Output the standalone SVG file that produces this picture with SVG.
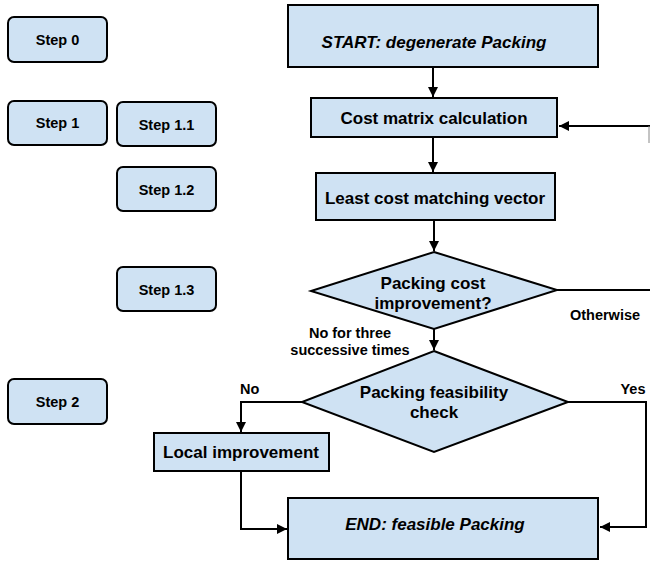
<svg xmlns="http://www.w3.org/2000/svg" width="650" height="563" viewBox="0 0 650 563">
<defs>
<marker id="ah" viewBox="0 0 10 10" refX="10" refY="5" markerWidth="5" markerHeight="5" orient="auto" markerUnits="strokeWidth">
<path d="M0,0 L10,5 L0,10 z" fill="#000"/>
</marker>
<style>
.box{fill:#cfe2f3;stroke:#000;stroke-width:2}
.step{fill:#cfe2f3;stroke:#000;stroke-width:2}
.t{font-family:"Liberation Sans",Arial,sans-serif;font-weight:bold;font-size:17px;fill:#000;text-anchor:middle}
.ti{font-style:italic}
.st{font-family:"Liberation Sans",Arial,sans-serif;font-weight:bold;font-size:14.5px;fill:#000;text-anchor:middle}
.lb{font-family:"Liberation Sans",Arial,sans-serif;font-weight:bold;font-size:14.5px;fill:#000}
.c{fill:none;stroke:#000;stroke-width:2}
</style>
</defs>
<rect width="650" height="563" fill="#fff"/>
<g id="connectors">
<path class="c" d="M433,67 V97" marker-end="url(#ah)"/>
<path class="c" d="M433,137 V172" marker-end="url(#ah)"/>
<path class="c" d="M434,220 V251" marker-end="url(#ah)"/>
<path class="c" d="M434,329 V350" marker-end="url(#ah)"/>
<path class="c" d="M557,290 H650"/>
<path class="c" d="M650,126 H559" marker-end="url(#ah)"/>
<path d="M649,126 V143" fill="none" stroke="#888" stroke-width="1"/>
<path class="c" d="M302,402 H241 V432" marker-end="url(#ah)"/>
<path class="c" d="M568,402 H646 V527 H600" marker-end="url(#ah)"/>
<path class="c" d="M241,471 V529 H287" marker-end="url(#ah)"/>
</g>
<g id="step0"><rect class="step" x="8" y="17" width="99" height="45" rx="6"/><text class="st" x="57.5" y="45">Step 0</text></g>
<g id="step1"><rect class="step" x="8" y="101" width="99" height="44" rx="6"/><text class="st" x="57.5" y="128">Step 1</text></g>
<g id="step11"><rect class="step" x="117" y="102" width="99" height="44" rx="6"/><text class="st" x="166.5" y="130">Step 1.1</text></g>
<g id="step12"><rect class="step" x="117" y="167" width="99" height="44" rx="6"/><text class="st" x="166.5" y="195">Step 1.2</text></g>
<g id="step13"><rect class="step" x="117" y="267" width="99" height="44" rx="6"/><text class="st" x="166.5" y="295">Step 1.3</text></g>
<g id="step2"><rect class="step" x="8" y="379" width="99" height="45" rx="6"/><text class="st" x="57.5" y="407">Step 2</text></g>
<g id="start"><rect class="box" x="288" y="5" width="310" height="62"/><text class="t ti" x="434" y="48">START: degenerate Packing</text></g>
<g id="cost"><rect class="box" x="311" y="98" width="246" height="39"/><text class="t" x="434" y="124">Cost matrix calculation</text></g>
<g id="least"><rect class="box" x="316" y="173" width="239" height="47"/><text class="t" x="435" y="204">Least cost matching vector</text></g>
<g id="d1"><polygon class="box" points="434,252 557,290 434,329 311,291"/><text class="t" x="433" y="289">Packing cost</text><text class="t" x="433" y="309">improvement?</text></g>
<g id="d2"><polygon class="box" points="434,351 568,402 434,452 302,402"/><text class="t" x="434" y="398">Packing feasibility</text><text class="t" x="434" y="418">check</text></g>
<g id="local"><rect class="box" x="154" y="433" width="175" height="38"/><text class="t" x="241" y="458">Local improvement</text></g>
<g id="end"><rect class="box" x="288" y="498" width="310" height="61"/><text class="t ti" x="435" y="530">END: feasible Packing</text></g>
<g id="labels">
<text class="lb" x="605" y="320" text-anchor="middle">Otherwise</text>
<text class="lb" x="350" y="338" text-anchor="middle">No for three</text>
<text class="lb" x="350" y="355" text-anchor="middle">successive times</text>
<text class="lb" x="240" y="394">No</text>
<text class="lb" x="633" y="394" text-anchor="middle">Yes</text>
</g>
</svg>
